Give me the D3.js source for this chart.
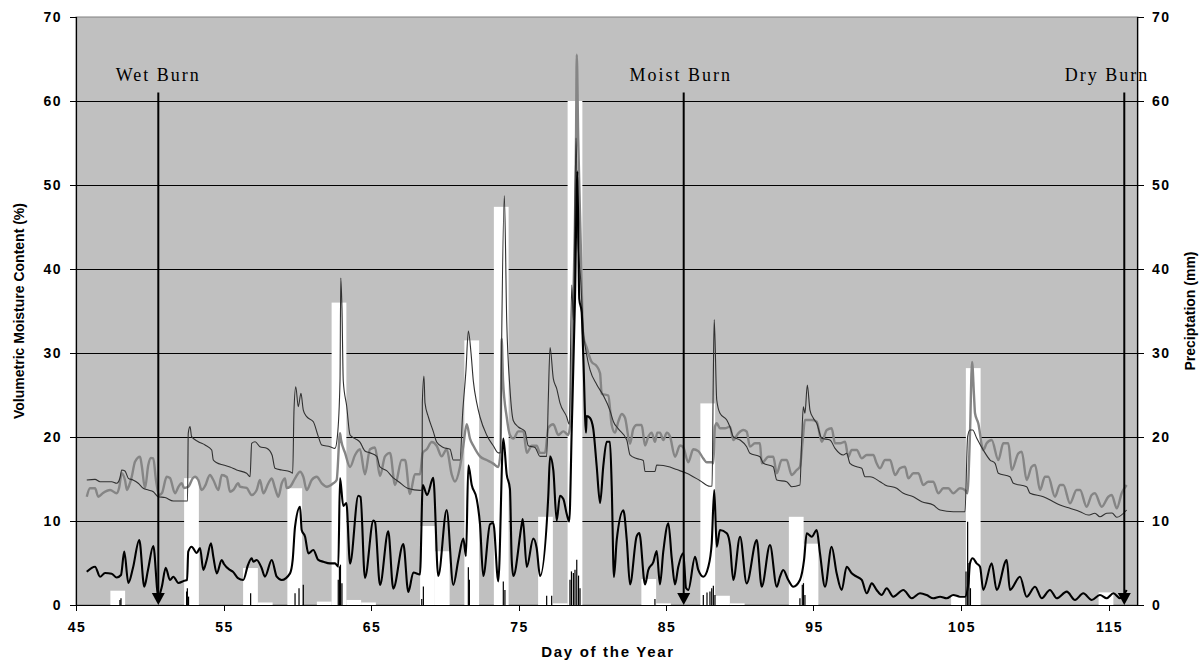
<!DOCTYPE html>
<html>
<head>
<meta charset="utf-8">
<script src="https://cdn.jsdelivr.net/npm/d3@7/dist/d3.min.js"></script>
<style>
  html, body { margin: 0; padding: 0; background: #ffffff; }
  svg { display: block; }
  .tick-label { font-family: Arial, "Liberation Sans", sans-serif; font-weight: bold; font-size: 14px; letter-spacing: 1.5px; fill: #000; }
  .axis-title { font-family: Arial, "Liberation Sans", sans-serif; font-weight: bold; fill: #000; }
  .burn-label { font-family: "Times New Roman", "Liberation Serif", serif; font-size: 18px; letter-spacing: 2px; fill: #000; }
</style>
</head>
<body>
<svg id="chart" width="1200" height="664"></svg>
<script>
// ---- Axis ticks ----
const dayTicks = [45, 55, 65, 75, 85, 95, 105, 115];
const valueTicks = [0, 10, 20, 30, 40, 50, 60, 70];

// ---- Volumetric moisture content (%), thin dark trace: [day of year, value] ----
const moistureThin = [
  [45.73,14.88],[46.29,14.96],[46.63,14.68],[47.42,14.68],[47.76,14.49],[47.98,15.12],[48.10,16.07],[48.32,15.95],
  [48.55,15.08],[48.86,14.88],[49.22,14.49],[49.56,13.89],[49.90,13.69],[50.24,13.49],[50.58,12.89],[51.03,12.80],
  [51.60,12.38],[52.39,12.38],[52.56,12.38],[52.61,20.44],[52.73,21.23],[52.84,20.04],[53.29,19.44],[53.75,19.05],
  [54.20,18.45],[54.31,17.26],[54.54,16.94],[54.99,16.67],[55.44,16.43],[55.89,16.07],[56.57,15.68],[56.80,15.27],
  [56.91,19.25],[57.14,19.44],[57.47,18.85],[57.93,18.65],[58.29,17.86],[58.49,16.27],[58.95,16.07],[59.51,15.87],
  [59.69,15.68],[59.78,23.21],[59.90,25.99],[60.07,23.61],[60.25,25.20],[60.41,23.21],[60.64,22.42],[61.09,21.82],
  [61.43,20.04],[61.66,19.05],[62.22,18.85],[62.56,18.65],[62.72,20.04],[62.90,26.79],[62.95,38.93],[63.03,35.42],
  [63.12,26.67],[63.35,23.69],[63.58,20.24],[63.92,19.81],[64.25,19.40],[64.59,18.33],[64.93,18.11],[65.39,17.69],
  [65.61,16.43],[66.06,15.99],[66.51,15.13],[66.85,14.71],[67.53,13.86],[68.32,13.64],[68.46,13.69],[68.48,24.06],
  [68.59,27.26],[68.66,24.06],[68.89,22.38],[69.22,20.67],[69.45,19.40],[69.90,18.75],[70.36,18.54],[70.58,17.26],
  [71.03,17.26],[71.22,23.00],[71.44,27.98],[71.60,32.62],[71.78,30.01],[71.94,26.62],[72.17,24.06],[72.39,22.38],
  [72.84,20.24],[73.29,18.96],[73.63,18.11],[73.78,18.11],[73.86,31.71],[74.04,48.73],[74.20,33.93],[74.42,25.76],
  [74.65,21.94],[74.99,21.19],[75.44,20.67],[75.66,18.96],[76.12,18.75],[76.46,17.69],[76.91,17.69],[77.02,24.49],
  [77.14,30.65],[77.36,26.95],[77.59,25.76],[77.81,24.06],[78.27,22.38],[78.44,21.51],[78.61,38.10],[78.72,33.93],
  [78.90,55.60],[79.03,43.45],[79.22,38.61],[79.39,32.86],[79.62,29.79],[79.85,27.98],[80.30,26.26],[80.75,24.93],
  [81.20,23.17],[81.43,21.85],[81.77,20.96],[82.34,19.64],[82.56,17.88],[83.01,17.44],[83.46,17.21],[83.58,15.89],
  [84.25,15.89],[84.37,16.67],[85.27,16.43],[85.73,16.12],[86.40,15.68],[87.31,14.80],[87.98,14.13],[88.12,14.17],
  [88.21,27.58],[88.27,33.98],[88.44,24.40],[88.66,22.82],[89.12,22.02],[89.34,21.19],[89.56,20.04],[90.02,19.64],
  [90.47,18.85],[90.69,18.06],[91.37,17.65],[91.60,16.87],[92.27,16.46],[92.51,14.88],[93.18,14.68],[93.52,14.08],
  [94.08,14.29],[94.20,19.64],[94.31,23.61],[94.42,22.82],[94.58,26.19],[94.76,23.21],[94.99,22.23],[95.22,21.63],
  [95.56,19.85],[96.12,19.64],[96.46,18.65],[97.02,17.86],[97.25,18.06],[97.47,16.87],[97.93,16.46],[98.27,16.27],
  [98.49,15.27],[98.83,15.27],[99.51,14.68],[99.85,14.29],[100.64,13.89],[101.09,13.30],[101.77,12.89],[102.34,12.30],
  [103.12,11.90],[103.58,11.31],[104.48,11.11],[105.27,11.11],[105.45,20.04],[105.61,20.83],[105.79,20.83],[106.06,19.88],
  [106.51,18.45],[106.97,17.26],[107.31,16.87],[107.53,15.68],[108.32,15.27],[108.55,14.49],[109.45,14.08],[109.68,13.30],
  [110.58,12.89],[111.26,12.30],[111.71,11.90],[112.39,11.51],[113.07,11.11],[113.63,10.71],[114.08,10.92],[114.42,10.51],
  [114.88,10.92],[115.24,10.95],[115.56,10.44],[116.23,11.31]
];

// ---- Volumetric moisture content (%), grey trace ----
const moistureGrey = [
  [45.73,12.89],[45.95,13.89],[46.29,13.89],[46.51,12.89],[46.83,13.33],[47.31,13.69],[47.76,13.30],[47.92,13.93],
  [48.10,15.68],[48.32,14.88],[48.46,13.69],[48.59,14.17],[48.78,15.27],[49.00,17.06],[49.34,17.65],[49.45,16.67],
  [49.68,13.93],[49.90,16.67],[50.08,17.50],[50.24,17.46],[50.42,14.88],[50.65,13.10],[50.83,13.33],[51.15,15.27],
  [51.37,15.12],[51.71,13.30],[51.94,14.05],[52.17,14.49],[52.32,13.93],[52.61,14.08],[52.93,15.12],[53.07,15.27],
  [53.29,14.88],[53.52,13.69],[53.75,14.17],[54.08,15.48],[54.31,14.88],[54.65,13.69],[54.88,15.48],[55.22,15.24],
  [55.44,13.49],[55.66,13.69],[56.00,14.49],[56.12,14.08],[56.57,13.93],[56.91,13.10],[57.25,13.69],[57.47,14.88],
  [57.70,13.30],[58.04,14.49],[58.27,15.08],[58.49,13.93],[58.72,12.89],[58.95,14.49],[59.17,15.08],[59.28,13.93],
  [59.51,14.08],[59.85,15.08],[60.19,15.87],[60.41,15.27],[60.64,13.69],[60.98,14.88],[61.32,15.27],[61.66,14.49],
  [62.00,14.08],[62.44,14.49],[62.67,14.88],[62.90,20.44],[62.97,19.64],[63.24,18.11],[63.58,16.43],[63.92,17.86],
  [64.25,18.54],[64.59,15.56],[64.93,18.54],[65.27,18.75],[65.61,15.36],[65.95,17.69],[66.29,18.11],[66.63,14.29],
  [67.08,17.26],[67.31,17.26],[67.64,13.21],[67.98,15.56],[68.32,15.56],[68.51,18.11],[68.78,18.54],[69.12,19.40],
  [69.45,18.96],[69.79,17.69],[70.13,18.54],[70.47,15.56],[70.69,14.71],[71.03,16.43],[71.26,18.96],[71.49,21.51],
  [71.71,19.81],[71.94,18.96],[72.39,17.69],[72.84,17.26],[73.29,16.83],[73.63,16.43],[73.78,18.21],[73.86,31.71],
  [73.95,26.79],[74.20,22.38],[74.42,20.24],[74.65,19.81],[74.99,20.67],[75.33,20.67],[75.56,18.11],[75.90,18.96],
  [76.23,18.96],[76.46,18.11],[76.80,18.11],[77.02,21.08],[77.36,21.51],[77.70,20.24],[78.04,20.67],[78.38,20.24],
  [78.49,21.43],[78.72,36.43],[78.90,55.36],[78.95,65.50],[79.05,55.36],[79.22,43.01],[79.39,32.02],[79.62,30.67],
  [79.96,28.93],[80.30,28.45],[80.53,27.58],[80.64,25.15],[81.09,24.93],[81.32,21.43],[81.54,20.52],[81.77,21.85],
  [82.00,22.74],[82.22,22.29],[82.56,19.20],[82.78,20.95],[83.01,21.43],[83.35,21.43],[83.58,18.98],[83.80,20.04],
  [84.03,20.52],[84.25,19.43],[84.41,20.52],[84.59,20.52],[84.82,19.64],[85.05,20.52],[85.27,20.08],[85.61,17.65],
  [85.95,18.98],[86.17,18.76],[86.51,17.00],[86.85,18.54],[87.19,18.32],[87.53,17.44],[87.76,17.00],[88.10,17.00],
  [88.21,16.87],[88.32,21.23],[88.44,21.63],[88.66,21.04],[89.00,21.04],[89.34,21.23],[89.56,19.64],[89.90,20.44],
  [90.24,20.83],[90.47,20.63],[90.69,18.85],[91.03,19.25],[91.37,19.25],[91.49,16.87],[91.94,17.65],[92.27,17.65],
  [92.51,15.68],[92.84,17.26],[93.18,17.26],[93.52,15.48],[93.86,16.07],[94.08,16.46],[94.27,19.64],[94.42,22.02],
  [94.88,22.02],[95.22,21.82],[95.56,19.44],[95.90,20.83],[96.23,21.04],[96.46,19.25],[96.80,19.25],[97.14,19.44],
  [97.36,17.65],[97.59,18.45],[97.93,18.45],[98.27,17.46],[98.61,17.86],[99.05,17.86],[99.28,16.87],[99.51,16.27],
  [99.85,17.26],[100.19,17.26],[100.53,15.48],[100.86,16.27],[101.20,16.46],[101.43,15.08],[101.77,15.68],[102.11,15.68],
  [102.44,14.29],[102.78,14.68],[103.12,14.68],[103.46,13.30],[103.80,13.89],[104.14,13.89],[104.48,13.30],[104.93,13.89],
  [105.27,13.69],[105.43,13.30],[105.61,20.44],[105.75,28.93],[105.88,25.00],[105.95,22.82],[106.17,21.63],[106.51,18.45],
  [106.74,19.25],[107.08,19.64],[107.53,17.26],[107.87,19.25],[108.21,19.25],[108.44,16.07],[108.89,18.06],[109.12,18.25],
  [109.45,14.88],[109.79,16.46],[110.02,16.67],[110.36,13.69],[110.69,15.27],[110.92,15.27],[111.37,12.89],[111.71,14.29],
  [111.94,14.29],[112.39,12.11],[112.84,13.69],[113.07,13.69],[113.52,11.70],[113.86,13.10],[114.08,13.30],[114.54,11.70],
  [114.99,12.89],[115.22,13.10],[115.56,11.51],[115.90,13.33],[116.23,14.29]
];

// ---- Volumetric moisture content (%), heavy black trace ----
const moistureBlack = [
  [45.73,3.96],[46.29,4.56],[46.63,3.37],[46.97,3.81],[47.42,3.73],[47.76,3.27],[48.05,3.57],[48.27,6.35],
  [48.55,2.62],[48.86,4.40],[49.29,7.74],[49.63,2.18],[49.88,4.17],[50.24,7.02],[50.58,0.99],[50.83,2.26],
  [51.08,4.44],[51.37,2.98],[51.60,3.37],[51.94,2.62],[52.34,2.89],[52.53,2.98],[52.61,6.35],[52.84,6.94],
  [53.18,6.19],[53.41,6.79],[53.63,4.17],[53.86,5.36],[54.15,7.35],[54.31,5.75],[54.54,3.77],[54.88,5.36],
  [55.03,4.88],[55.44,4.17],[55.64,3.96],[55.98,3.21],[56.34,2.98],[56.66,4.76],[56.91,5.56],[57.02,5.15],
  [57.25,5.36],[57.59,4.37],[57.81,3.37],[58.27,5.36],[58.61,3.37],[58.95,2.98],[59.51,3.77],[59.69,5.36],
  [59.85,9.32],[60.19,11.70],[60.30,8.93],[60.53,8.13],[60.75,6.15],[61.09,6.55],[61.43,5.36],[61.77,5.15],
  [62.22,4.96],[62.56,4.96],[62.78,4.56],[62.90,15.12],[63.12,11.79],[63.33,12.14],[63.58,4.93],[64.14,13.01],
  [64.29,12.86],[64.59,3.23],[65.16,10.04],[65.27,9.88],[65.61,2.38],[66.17,8.76],[66.51,1.95],[67.19,7.27],
  [67.53,1.55],[67.87,3.87],[68.32,3.65],[68.51,14.29],[68.80,13.10],[69.22,15.13],[69.56,3.45],[70.13,11.31],
  [70.58,2.38],[70.92,5.36],[71.26,7.90],[71.44,5.83],[71.60,16.62],[71.83,14.29],[72.17,12.58],[72.39,9.61],
  [72.61,3.45],[73.07,9.61],[73.29,9.76],[73.63,2.81],[73.97,19.81],[74.20,15.56],[74.42,13.81],[74.54,5.36],
  [74.65,3.45],[75.22,9.61],[75.29,10.24],[75.56,4.52],[76.00,7.90],[76.23,6.79],[76.46,3.45],[77.02,13.01],
  [77.14,17.69],[77.36,16.07],[77.59,10.04],[77.81,13.01],[78.04,12.62],[78.27,10.83],[78.44,9.94],[78.61,20.95],
  [78.83,36.43],[78.99,51.61],[79.12,36.43],[79.28,34.88],[79.39,29.76],[79.58,20.52],[79.62,22.50],[79.85,22.26],
  [80.07,20.95],[80.30,16.55],[80.53,12.14],[80.75,16.55],[80.98,19.43],[81.20,19.43],[81.32,14.17],[81.47,3.33],
  [81.66,7.74],[82.11,11.26],[82.34,7.74],[82.56,2.45],[83.01,8.18],[83.19,8.57],[83.58,2.45],[83.80,4.17],
  [84.14,5.10],[84.37,6.43],[84.59,2.45],[84.82,6.43],[85.16,9.73],[85.39,5.54],[85.61,2.45],[85.83,4.52],
  [86.17,6.19],[86.36,2.02],[86.51,1.79],[86.97,5.75],[87.19,4.17],[87.53,3.37],[87.87,4.56],[88.10,7.35],
  [88.27,13.69],[88.44,6.94],[88.66,8.93],[89.12,8.54],[89.34,7.14],[89.56,2.98],[90.02,8.13],[90.47,2.58],
  [91.15,7.74],[91.49,2.18],[92.05,7.14],[92.51,2.18],[92.73,3.37],[92.95,4.17],[93.29,2.98],[93.63,2.18],
  [94.08,2.98],[94.36,5.36],[94.54,8.54],[94.88,8.13],[95.22,8.93],[95.44,6.15],[95.78,2.18],[96.23,6.94],
  [96.57,3.77],[96.91,1.79],[97.25,4.56],[97.59,3.77],[97.93,3.37],[98.27,2.98],[98.61,1.39],[98.95,2.58],
  [99.28,1.79],[99.62,1.19],[99.96,1.99],[100.41,0.99],[101.09,1.79],[101.66,0.80],[102.22,1.39],[102.67,1.19],
  [103.12,0.80],[103.58,0.99],[104.03,0.80],[104.48,1.19],[104.93,0.99],[105.27,0.99],[105.50,2.58],[105.61,4.96],
  [105.79,5.56],[106.06,4.96],[106.29,4.56],[106.51,1.79],[107.08,4.96],[107.42,1.79],[108.10,5.36],[108.32,1.79],
  [109.00,3.37],[109.45,0.99],[110.02,2.18],[110.47,0.80],[111.03,1.79],[111.49,0.80],[112.17,1.59],[112.73,0.60],
  [113.29,1.39],[113.86,0.60],[114.42,1.19],[114.88,0.80],[115.33,1.39],[115.78,0.80],[116.23,1.79]
];

// ---- Daily precipitation (mm) ----
const rainDays  = [47, 52, 56, 57, 59, 61, 62, 63, 64, 68, 69, 71, 73, 76, 77, 78, 83, 84, 87, 88, 89, 93, 94, 104, 105, 114];
const rainDaily = [1.7, 15.1, 4.4, 0.3, 13.9, 0.4, 36.0, 0.6, 0.3, 9.4, 6.4, 31.5, 47.4, 10.5, 0.2, 60.0, 3.1, 0.2, 24.0, 1.1, 0.2, 10.5, 7.3, 1.2, 28.2, 1.5];

// ---- Hourly precipitation (mm) ----
const hourlyDays = [47.98, 48.05, 52.50, 52.55, 52.63, 56.84, 59.85, 60.12, 60.41, 62.78, 62.86, 62.93, 63.03,
                    68.44, 68.55, 71.60, 71.67, 73.97, 74.08, 76.91, 77.25, 78.49, 78.59, 78.72, 78.83, 78.95,
                    79.07, 79.17, 84.25, 87.53, 87.78, 87.98, 88.10, 88.21, 88.32, 94.08, 94.24, 94.32, 94.42,
                    105.34, 105.45, 105.54, 105.64];
const hourlyRain = [0.6, 0.8, 1.6, 2.0, 1.0, 1.4, 1.4, 2.0, 2.4, 3.0, 4.6, 4.8, 2.6,
                    0.7, 2.2, 4.5, 3.0, 2.8, 1.8, 1.1, 1.1, 3.0, 4.0, 3.8, 4.2, 5.4,
                    3.5, 2.0, 0.7, 1.2, 1.5, 1.6, 2.0, 2.3, 1.2, 0.8, 2.4, 2.6, 1.2,
                    4.0, 9.9, 5.0, 2.0];

// ---- Burn events ----
const burnNames = ["Wet Burn", "Moist Burn", "Dry Burn"];
const burnDays  = [50.58, 86.2, 116.07];

// ---- Layout ----
const plot = { left: 76, right: 1138, top: 17, bottom: 605 };

const x = d3.scaleLinear().domain([45, 117]).range([plot.left, plot.right]);
const y = d3.scaleLinear().domain([0, 70]).range([plot.bottom, plot.top]);
const yRain = d3.scaleLinear().domain([0, 70]).range([plot.bottom, plot.top]);

const svg = d3.select("#chart");

// Plot background
svg.append("rect")
  .attr("x", plot.left).attr("y", plot.top)
  .attr("width", plot.right - plot.left).attr("height", plot.bottom - plot.top)
  .attr("fill", "#c0c0c0").attr("stroke", "#808080").attr("stroke-width", 1);

// Horizontal gridlines
svg.append("g").selectAll("line")
  .data(valueTicks.filter(v => v > 0 && v < 70))
  .join("line")
  .attr("x1", plot.left).attr("x2", plot.right)
  .attr("y1", d => Math.round(y(d)) + 0.5).attr("y2", d => Math.round(y(d)) + 0.5)
  .attr("stroke", "#000").attr("stroke-width", 1);

// Daily precipitation bars (white), each covering one day
const BAR_SHIFT = 0.33;
svg.append("g").selectAll("rect")
  .data(rainDays.map((d, i) => ({ day: d, mm: rainDaily[i] })))
  .join("rect")
  .attr("x", d => x(d.day + BAR_SHIFT))
  .attr("width", d => x(d.day + 1 + BAR_SHIFT) - x(d.day + BAR_SHIFT))
  .attr("y", d => yRain(d.mm))
  .attr("height", d => yRain(0) - yRain(d.mm))
  .attr("fill", "#ffffff");

// Hourly precipitation spikes
svg.append("g").selectAll("line")
  .data(hourlyDays.map((d, i) => ({ day: d, mm: hourlyRain[i] })))
  .join("line")
  .attr("x1", d => x(d.day)).attr("x2", d => x(d.day))
  .attr("y1", yRain(0)).attr("y2", d => yRain(d.mm))
  .attr("stroke", "#000").attr("stroke-width", 1.2);

// Moisture traces
const line = d3.line().x(d => x(d[0])).y(d => y(d[1])).curve(d3.curveMonotoneX);
svg.append("path").datum(moistureGrey)
  .attr("d", line).attr("fill", "none")
  .attr("stroke", "#858585").attr("stroke-width", 2.4).attr("stroke-linejoin", "round");
svg.append("path").datum(moistureThin)
  .attr("d", line).attr("fill", "none")
  .attr("stroke", "#303030").attr("stroke-width", 1.1).attr("stroke-linejoin", "round");
svg.append("path").datum(moistureBlack)
  .attr("d", line).attr("fill", "none")
  .attr("stroke", "#000").attr("stroke-width", 2.1).attr("stroke-linejoin", "round");

// Axis lines
svg.append("line").attr("x1", plot.left + 0.5).attr("x2", plot.left + 0.5)
  .attr("y1", plot.top).attr("y2", plot.bottom).attr("stroke", "#000").attr("stroke-width", 1.2);
svg.append("line").attr("x1", plot.right - 0.5).attr("x2", plot.right - 0.5)
  .attr("y1", plot.top).attr("y2", plot.bottom).attr("stroke", "#000").attr("stroke-width", 1.2);
svg.append("line").attr("x1", plot.left).attr("x2", plot.right)
  .attr("y1", plot.bottom + 0.5).attr("y2", plot.bottom + 0.5).attr("stroke", "#000").attr("stroke-width", 1.2);

// Left axis ticks and labels
const leftAxis = svg.append("g");
leftAxis.selectAll("line").data(valueTicks).join("line")
  .attr("x1", plot.left - 6).attr("x2", plot.left)
  .attr("y1", d => Math.round(y(d)) + 0.5).attr("y2", d => Math.round(y(d)) + 0.5)
  .attr("stroke", "#000");
leftAxis.selectAll("text").data(valueTicks).join("text")
  .attr("class", "tick-label")
  .attr("x", plot.left - 14).attr("y", d => y(d)).attr("dy", "0.36em")
  .attr("text-anchor", "end").text(d => d);

// Right axis ticks and labels
const rightAxis = svg.append("g");
rightAxis.selectAll("line").data(valueTicks).join("line")
  .attr("x1", plot.right).attr("x2", plot.right + 6)
  .attr("y1", d => Math.round(yRain(d)) + 0.5).attr("y2", d => Math.round(yRain(d)) + 0.5)
  .attr("stroke", "#000");
rightAxis.selectAll("text").data(valueTicks).join("text")
  .attr("class", "tick-label")
  .attr("x", plot.right + 14).attr("y", d => yRain(d)).attr("dy", "0.36em")
  .attr("text-anchor", "start").text(d => d);

// Bottom axis ticks and labels
const bottomAxis = svg.append("g");
bottomAxis.selectAll("line").data(dayTicks).join("line")
  .attr("x1", d => Math.round(x(d)) + 0.5).attr("x2", d => Math.round(x(d)) + 0.5)
  .attr("y1", plot.bottom).attr("y2", plot.bottom + 6)
  .attr("stroke", "#000");
bottomAxis.selectAll("text").data(dayTicks).join("text")
  .attr("class", "tick-label")
  .attr("x", d => x(d) + 1).attr("y", plot.bottom + 27)
  .attr("text-anchor", "middle").text(d => d);

// Axis titles
svg.append("text").attr("class", "axis-title")
  .attr("x", (plot.left + plot.right) / 2 + 1).attr("y", 657)
  .attr("text-anchor", "middle").style("font-size", "15px").style("letter-spacing", "1.7px")
  .text("Day of the Year");
svg.append("text").attr("class", "axis-title")
  .attr("transform", `translate(24, ${(plot.top + plot.bottom) / 2}) rotate(-90)`)
  .attr("text-anchor", "middle").style("font-size", "14px")
  .text("Volumetric Moisture Content (%)");
svg.append("text").attr("class", "axis-title")
  .attr("transform", `translate(1195, ${(plot.top + plot.bottom) / 2}) rotate(-90)`)
  .attr("text-anchor", "middle").style("font-size", "14px")
  .text("Preciptation (mm)");

// Burn event markers: vertical line with a downward arrowhead and a label
const burns = burnDays.map((d, i) => ({ day: d, name: burnNames[i] }));
const burnG = svg.append("g").selectAll("g").data(burns).join("g");
burnG.append("line")
  .attr("x1", d => x(d.day)).attr("x2", d => x(d.day))
  .attr("y1", y(61)).attr("y2", y(0) - 10)
  .attr("stroke", "#000").attr("stroke-width", 2);
burnG.append("path")
  .attr("d", d => {
    const cx = x(d.day), tip = y(0);
    return `M${cx - 6.5},${tip - 12}L${cx + 6.5},${tip - 12}L${cx},${tip}Z`;
  })
  .attr("fill", "#000");
burnG.append("text")
  .attr("class", "burn-label")
  .attr("x", (d, i) => i === 2 ? x(d.day) + 25 : x(d.day) - (i === 1 ? 3 : 0))
  .attr("y", y(61) - 12)
  .attr("text-anchor", (d, i) => i === 2 ? "end" : "middle")
  .text(d => d.name);
</script>
</body>
</html>
